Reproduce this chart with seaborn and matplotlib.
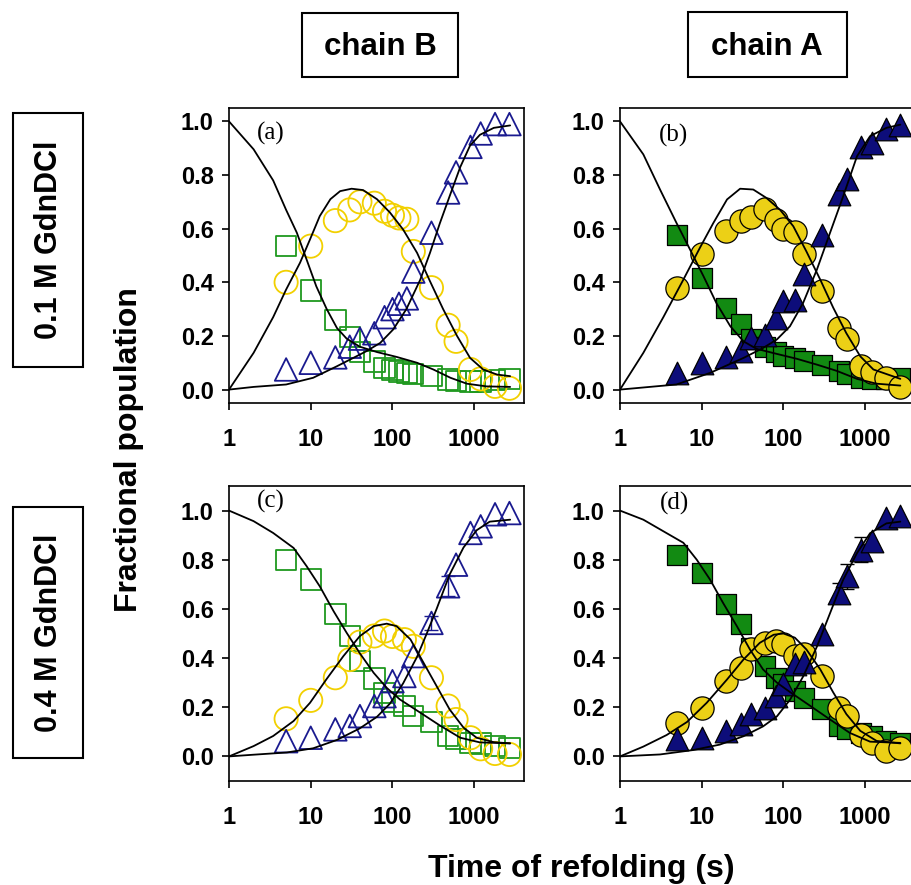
import matplotlib
matplotlib.use("Agg")
import matplotlib.pyplot as plt
import seaborn as sns
from matplotlib.patches import Rectangle
from matplotlib.ticker import NullLocator

# ---------------- data ----------------
# measurement times (s)
t_a = [5, 10, 20, 30, 40, 60, 80, 100, 120, 150, 180, 300, 480, 600, 900, 1200, 1800, 2700]
t_bcd = [5, 10, 20, 30, 40, 60, 80, 100, 140, 180, 300, 480, 600, 900, 1200, 1800, 2700]

# panel (a): chain B, 0.1 M
a_sq = [0.535, 0.37, 0.26, 0.195, 0.14, 0.105, 0.08, 0.074, 0.068, 0.063, 0.058, 0.05, 0.037, 0.033, 0.03, 0.03, 0.035, 0.04]
a_ci = [0.40, 0.535, 0.63, 0.67, 0.70, 0.695, 0.665, 0.65, 0.64, 0.635, 0.515, 0.38, 0.24, 0.18, 0.075, 0.04, 0.012, 0.005]
a_tr = [0.075, 0.10, 0.12, 0.16, 0.19, 0.21, 0.27, 0.30, 0.32, 0.34, 0.44, 0.585, 0.735, 0.81, 0.905, 0.955, 0.99, 0.99]

# panel (b): chain A, 0.1 M
b_sq = [0.575, 0.417, 0.305, 0.243, 0.187, 0.16, 0.139, 0.127, 0.117, 0.108, 0.09, 0.07, 0.057, 0.044, 0.039, 0.039, 0.045]
b_ci = [0.38, 0.504, 0.593, 0.628, 0.644, 0.672, 0.632, 0.597, 0.587, 0.504, 0.367, 0.23, 0.19, 0.087, 0.065, 0.044, 0.01]
b_tr = [0.062, 0.10, 0.12, 0.143, 0.193, 0.205, 0.267, 0.33, 0.335, 0.43, 0.578, 0.728, 0.784, 0.905, 0.92, 0.97, 0.985]

# panel (c): chain B, 0.4 M
c_sq = [0.80, 0.72, 0.58, 0.49, 0.387, 0.317, 0.259, 0.221, 0.205, 0.164, 0.14, 0.083, 0.072, 0.055, 0.053, 0.042, 0.035]
c_ci = [0.153, 0.228, 0.32, 0.394, 0.465, 0.49, 0.51, 0.488, 0.475, 0.448, 0.32, 0.205, 0.15, 0.076, 0.031, 0.012, 0.008]
c_tr = [0.062, 0.076, 0.11, 0.124, 0.164, 0.205, 0.245, 0.306, 0.327, 0.408, 0.543, 0.692, 0.78, 0.909, 0.936, 0.985, 0.99]

# panel (d): chain A, 0.4 M
d_sq = [0.82, 0.747, 0.618, 0.537, 0.44, 0.367, 0.32, 0.293, 0.265, 0.238, 0.191, 0.123, 0.11, 0.096, 0.085, 0.062, 0.055]
d_ci = [0.137, 0.198, 0.306, 0.36, 0.435, 0.462, 0.47, 0.457, 0.41, 0.415, 0.326, 0.198, 0.164, 0.089, 0.055, 0.022, 0.035]
d_tr = [0.069, 0.076, 0.103, 0.13, 0.171, 0.198, 0.245, 0.293, 0.374, 0.386, 0.496, 0.665, 0.733, 0.841, 0.875, 0.97, 0.977]

# error bars (triangles)
c_err_t = [300, 480]
c_err_v = [0.543, 0.692]
c_err = [0.03, 0.04]
d_err_t = [480, 600, 900]
d_err_v = [0.665, 0.733, 0.841]
d_err = [0.04, 0.05, 0.05]

# fitted curves (time in s, fraction)
aU_t = [1, 2.0, 3.47, 5.0, 6.76, 8.9, 11.7, 15.7, 20.9, 27.5, 39.8, 64.6, 112, 200, 316, 513, 813, 1413, 2754]
aU_f = [1.0, 0.896, 0.78, 0.67, 0.585, 0.485, 0.385, 0.30, 0.23, 0.19, 0.16, 0.14, 0.122, 0.10, 0.075, 0.044, 0.022, 0.012, 0.01]
aI_t = [1, 2.0, 3.47, 5.0, 7.4, 9.8, 12.9, 17.4, 22.9, 31.6, 43.7, 64.6, 93.3, 135, 200, 288, 417, 617, 891, 1288, 1905, 2754]
aI_f = [0, 0.137, 0.27, 0.373, 0.473, 0.56, 0.647, 0.71, 0.74, 0.749, 0.744, 0.71, 0.66, 0.597, 0.51, 0.404, 0.30, 0.20, 0.118, 0.075, 0.056, 0.05]
aN_t = [1, 2.0, 5.0, 10.7, 20.9, 33.1, 47.9, 70.8, 102, 148, 219, 288, 380, 513, 676, 891, 1175, 1738, 2754]
aN_f = [0, 0.01, 0.019, 0.044, 0.087, 0.118, 0.143, 0.174, 0.224, 0.30, 0.41, 0.51, 0.62, 0.73, 0.83, 0.91, 0.95, 0.976, 0.985]

bU_t = [1, 1.93, 3.09, 4.9, 7.2, 10.5, 15.1, 22.4, 32.4, 46.8, 83.2, 145, 257, 447, 794, 1380, 2692]
bU_f = [1.0, 0.877, 0.746, 0.622, 0.522, 0.423, 0.323, 0.236, 0.18, 0.152, 0.133, 0.115, 0.093, 0.07, 0.04, 0.022, 0.015]
bI_t = [1, 1.93, 3.39, 5.96, 9.55, 13.8, 20.4, 29.5, 42.7, 61.7, 91.2, 132, 191, 282, 407, 589, 871, 1259, 2692]
bI_f = [0, 0.137, 0.27, 0.41, 0.53, 0.62, 0.709, 0.749, 0.746, 0.715, 0.67, 0.609, 0.515, 0.41, 0.305, 0.21, 0.124, 0.075, 0.04]
bN_t = [1, 4.9, 12.6, 32.4, 56.2, 83.2, 120, 174, 257, 372, 537, 794, 1148, 1820, 2692]
bN_f = [0, 0.019, 0.062, 0.118, 0.155, 0.187, 0.236, 0.323, 0.448, 0.585, 0.72, 0.87, 0.945, 0.976, 0.988]

cU_t = [1, 2.0, 3.47, 6.17, 8.9, 12.9, 19.1, 27.5, 39.8, 58.9, 85.1, 123, 219, 380, 676, 1175, 2754]
cU_f = [1.0, 0.957, 0.909, 0.848, 0.774, 0.692, 0.59, 0.503, 0.42, 0.34, 0.279, 0.232, 0.178, 0.126, 0.076, 0.057, 0.053]
cI_t = [1, 2.0, 3.47, 6.17, 9.8, 15.5, 25.1, 39.8, 58.9, 85.1, 112, 166, 240, 347, 501, 741, 1072, 1738, 2754]
cI_f = [0, 0.042, 0.083, 0.144, 0.218, 0.313, 0.408, 0.489, 0.53, 0.54, 0.53, 0.476, 0.381, 0.286, 0.191, 0.117, 0.076, 0.058, 0.053]
cN_t = [1, 2.0, 5.1, 10.7, 20.9, 39.8, 64.6, 93.3, 135, 200, 263, 347, 501, 741, 1072, 1549, 2754]
cN_f = [0, 0.007, 0.016, 0.033, 0.067, 0.114, 0.161, 0.215, 0.297, 0.405, 0.50, 0.60, 0.74, 0.85, 0.92, 0.955, 0.963]

dU_t = [1, 1.93, 3.39, 5.96, 8.7, 12.6, 18.2, 26.9, 38.9, 56.2, 83.2, 120, 214, 372, 646, 1148, 2692]
dU_f = [1.0, 0.963, 0.916, 0.869, 0.80, 0.72, 0.625, 0.53, 0.435, 0.354, 0.30, 0.262, 0.205, 0.15, 0.096, 0.06, 0.055]
dI_t = [1, 1.93, 3.72, 6.6, 11.5, 20.4, 32.4, 51.3, 75.9, 100, 138, 191, 282, 407, 589, 871, 1380, 2692]
dI_f = [0, 0.04, 0.087, 0.14, 0.218, 0.313, 0.394, 0.462, 0.495, 0.50, 0.483, 0.435, 0.354, 0.26, 0.172, 0.104, 0.063, 0.053]
dN_t = [1, 3.09, 7.9, 16.6, 32.4, 56.2, 83.2, 120, 174, 257, 372, 537, 794, 1148, 1820, 2692]
dN_f = [0, 0.008, 0.026, 0.048, 0.082, 0.122, 0.163, 0.23, 0.325, 0.447, 0.583, 0.718, 0.827, 0.908, 0.948, 0.955]

x_ticks = [1, 10, 100, 1000]
x_ticklabels = ["1", "10", "100", "1000"]
y_ticks = [0.0, 0.2, 0.4, 0.6, 0.8, 1.0]
y_ticklabels = ["0.0", "0.2", "0.4", "0.6", "0.8", "1.0"]

col_labels = ["chain B", "chain A"]
row_labels = ["0.1 M GdnDCl", "0.4 M GdnDCl"]
panel_letters = ["(a)", "(b)", "(c)", "(d)"]

# ---------------- style ----------------
sns.set_theme(style="ticks")
plt.rcParams["font.family"] = ["Liberation Sans", "DejaVu Sans"]

GREEN = "#1f991f"
YELLOW = "#f2d000"
NAVY = "#1a1a8f"
GREEN_F = "#128a12"
YELLOW_F = "#ecd016"
NAVY_F = "#0d0d7a"

W, H = 912, 885
fig = plt.figure(figsize=(W / 100, H / 100), dpi=100)
fig.patch.set_facecolor("white")


def fx(px):
    return px / W


def fy(py):
    return 1 - py / H


axw, axh = 295 / W, 295 / H
positions = [
    [fx(229), fy(403), axw, axh],
    [fx(620), fy(403), axw, axh],
    [fx(229), fy(781), axw, axh],
    [fx(620), fy(781), axw, axh],
]
ylims = [(-0.05, 1.05), (-0.05, 1.05), (-0.1, 1.1), (-0.1, 1.1)]
letter_pos = [(0.142, 0.915), (0.183, 0.908), (0.142, 0.946), (0.186, 0.942)]

panels = [
    dict(t=t_a, sq=a_sq, ci=a_ci, tr=a_tr, filled=False,
         curves=[(aU_t, aU_f), (aI_t, aI_f), (aN_t, aN_f)], err=None),
    dict(t=t_bcd, sq=b_sq, ci=b_ci, tr=b_tr, filled=True,
         curves=[(bU_t, bU_f), (bI_t, bI_f), (bN_t, bN_f)], err=None),
    dict(t=t_bcd, sq=c_sq, ci=c_ci, tr=c_tr, filled=False,
         curves=[(cU_t, cU_f), (cI_t, cI_f), (cN_t, cN_f)], err=(c_err_t, c_err_v, c_err)),
    dict(t=t_bcd, sq=d_sq, ci=d_ci, tr=d_tr, filled=True,
         curves=[(dU_t, dU_f), (dI_t, dI_f), (dN_t, dN_f)], err=(d_err_t, d_err_v, d_err)),
]

for i, p in enumerate(panels):
    ax = fig.add_axes(positions[i])
    ax.set_facecolor("white")
    ax.set_xscale("log")

    if p["err"] is not None:
        et, ev, ee = p["err"]
        ax.errorbar(et, ev, yerr=ee, fmt="none", ecolor="black" if p["filled"] else NAVY,
                    elinewidth=1.0, capsize=5, capthick=1.0, zorder=2)

    series = [
        (p["sq"], "s", 215, GREEN_F if p["filled"] else GREEN),
        (p["ci"], "o", 280, YELLOW_F if p["filled"] else YELLOW),
        (p["tr"], "^", 265, NAVY_F if p["filled"] else NAVY),
    ]
    for vals, mk, sz, colr in series:
        if p["filled"]:
            sns.scatterplot(x=p["t"], y=vals, ax=ax, marker=mk, s=sz,
                            facecolor=colr, edgecolor="black", linewidth=0.9,
                            zorder=3, legend=False)
        else:
            sns.scatterplot(x=p["t"], y=vals, ax=ax, marker=mk, s=sz,
                            facecolor="none", edgecolor=colr, linewidth=1.3,
                            zorder=3, legend=False)

    for ct, cf in p["curves"]:
        sns.lineplot(x=ct, y=cf, ax=ax, color="black", linewidth=1.3,
                     sort=False, estimator=None, zorder=4, legend=False)

    ax.set_xlim(1, 4070)
    ax.set_ylim(*ylims[i])
    ax.set_xticks(x_ticks)
    ax.set_xticklabels(x_ticklabels)
    ax.xaxis.set_minor_locator(NullLocator())
    ax.set_yticks(y_ticks)
    ax.set_yticklabels(y_ticklabels)
    ax.set_xlabel("")
    ax.set_ylabel("")
    ax.tick_params(axis="both", which="major", direction="out", length=5,
                   width=1.2, colors="black", labelsize=17)
    ax.tick_params(axis="x", pad=13)
    ax.tick_params(axis="y", pad=6)
    for lab in ax.get_xticklabels() + ax.get_yticklabels():
        lab.set_fontweight("bold")
    for sp in ax.spines.values():
        sp.set_visible(True)
        sp.set_color("black")
        sp.set_linewidth(1.2)

    ax.text(letter_pos[i][0], letter_pos[i][1], panel_letters[i], transform=ax.transAxes,
            ha="center", va="center", fontsize=18, family=["Liberation Serif", "DejaVu Serif"],
            color="black", zorder=5)

# column header boxes
for (x0, y0, x1, y1), lab, cx in [((302, 13, 458, 77), col_labels[0], 380),
                                   ((688, 12, 847, 77), col_labels[1], 767)]:
    fig.add_artist(Rectangle((fx(x0), fy(y1)), (x1 - x0) / W, (y1 - y0) / H,
                             transform=fig.transFigure, fill=False, lw=1.5, ec="black"))
    fig.text(fx(cx), fy(55), lab, ha="center", va="baseline", fontsize=22.5,
             fontweight="bold", color="black")

# row header boxes
for (x0, y0, x1, y1), lab in [((13, 113, 83, 367), row_labels[0]),
                               ((13, 507, 83, 758), row_labels[1])]:
    fig.add_artist(Rectangle((fx(x0), fy(y1)), (x1 - x0) / W, (y1 - y0) / H,
                             transform=fig.transFigure, fill=False, lw=1.5, ec="black"))
    fig.text(fx((x0 + x1) / 2 + 1), fy((y0 + y1) / 2), lab, ha="center", va="center",
             rotation=90, fontsize=22, fontweight="bold", color="black")

# axis titles
fig.text(fx(129), fy(450), "Fractional population", ha="center", va="center",
         rotation=90, fontsize=23, fontweight="bold", color="black")
fig.text(fx(581), fy(877), "Time of refolding (s)", ha="center", va="baseline",
         fontsize=23, fontweight="bold", color="black")

fig.savefig("out.png", dpi=100, facecolor="white")
